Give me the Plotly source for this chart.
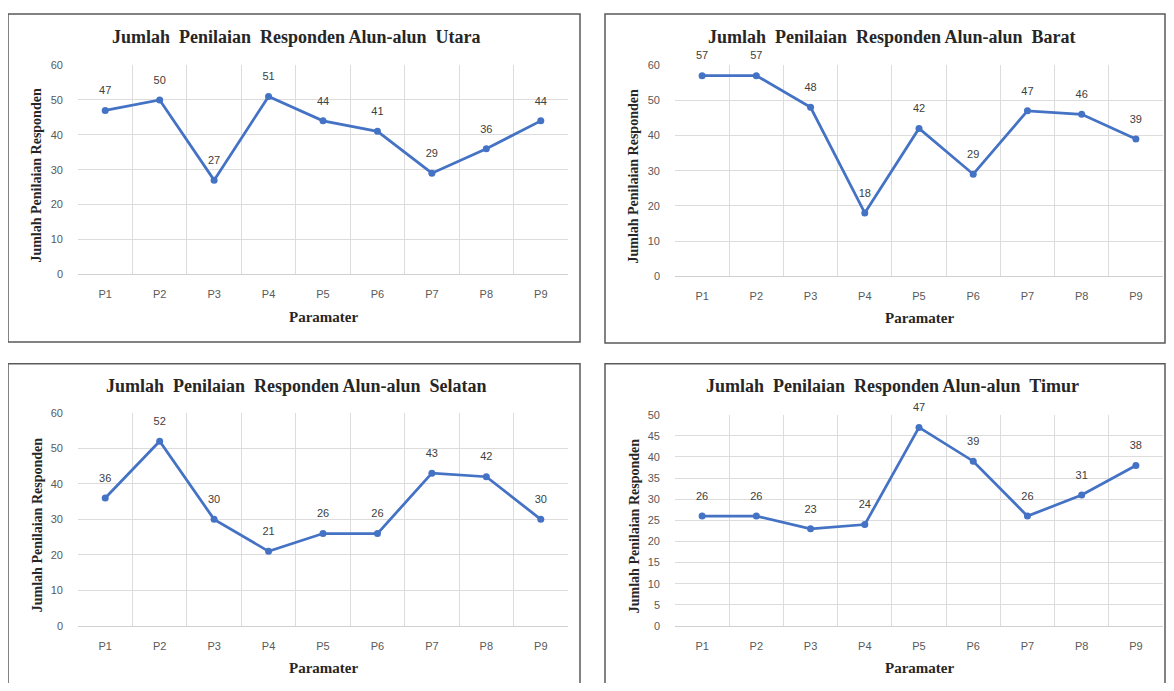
import plotly.graph_objects as go

# page body has an 8px margin, so the figure is drawn 8px in from the top-left
OFF = 8
W, H = 1174 - 2 * OFF, 691 - 2 * OFF

params = ["P1", "P2", "P3", "P4", "P5", "P6", "P7", "P8", "P9"]
utara = [47, 50, 27, 51, 44, 41, 29, 36, 44]
barat = [57, 57, 48, 18, 42, 29, 47, 46, 39]
selatan = [36, 52, 30, 21, 26, 26, 43, 42, 30]
timur = [26, 26, 23, 24, 47, 39, 26, 31, 38]

titles = [
    "Jumlah\u00a0 Penilaian\u00a0 Responden Alun-alun\u00a0 Utara",
    "Jumlah\u00a0 Penilaian\u00a0 Responden Alun-alun\u00a0 Barat",
    "Jumlah\u00a0 Penilaian\u00a0 Responden Alun-alun\u00a0 Selatan",
    "Jumlah\u00a0 Penilaian\u00a0 Responden Alun-alun\u00a0 Timur",
]
y_title = "Jumlah Penilaian Responden"
x_title = "Paramater"

series = [utara, barat, selatan, timur]
y_max = [60, 60, 60, 50]
y_step = [10, 10, 10, 5]

# pixel layout in window coords: panel box (x0,y0,x1,y1), plot area (x0,ytop,x1,ybottom)
panels = [
    dict(box=(8, 8, 580, 342), plot=(78, 60, 568, 273)),
    dict(box=(605, 8, 1165, 343), plot=(675, 60, 1163, 275)),
    dict(box=(8, 364, 580, 700), plot=(78, 414, 568, 631)),
    dict(box=(605, 364, 1165, 700), plot=(675, 416, 1163, 631)),
]

def px(x):
    return (x - OFF) / W

def py(y):
    return 1 - (y - OFF) / H

fig = go.Figure()
serif = "Liberation Serif, Times New Roman, serif"
sans = "Liberation Sans Narrow, Liberation Sans, Arial, sans-serif"

for i, (vals, p) in enumerate(zip(series, panels)):
    n = i + 1
    xa = "x" if n == 1 else f"x{n}"
    ya = "y" if n == 1 else f"y{n}"
    fig.add_trace(go.Scatter(
        x=params, y=vals, xaxis=xa, yaxis=ya,
        mode="lines+markers",
        line=dict(color="#4472C4", width=2.75),
        marker=dict(color="#4472C4", size=7),
        showlegend=False, cliponaxis=False, hoverinfo="x+y",
    ))
    # data labels (transparent large marker only to push the label upward)
    fig.add_trace(go.Scatter(
        x=params, y=vals, xaxis=xa, yaxis=ya,
        mode="markers+text",
        text=[str(v) for v in vals],
        textposition="top center",
        textfont=dict(family=sans, size=11, color="#404040"),
        marker=dict(color="rgba(0,0,0,0)", size=20),
        showlegend=False, cliponaxis=False, hoverinfo="skip",
    ))
    x0, yt, x1, yb = p["plot"]
    xkey = "xaxis" if n == 1 else f"xaxis{n}"
    ykey = "yaxis" if n == 1 else f"yaxis{n}"
    fig.layout[xkey] = dict(
        domain=[px(x0), min(1, px(x1))], anchor=ya, type="category",
        range=[-0.5, len(params) - 0.5],
        tickson="boundaries", showgrid=True, gridcolor="#dcdcdc", gridwidth=1,
        showline=True, linecolor="#d0d0d0", linewidth=1, mirror=False,
        ticks="", tickfont=dict(family=sans, size=11, color="#595959"),
        ticklabelstandoff=10, zeroline=False, fixedrange=True,
    )
    fig.layout[ykey] = dict(
        domain=[max(0, py(yb)), py(yt)], anchor=xa, range=[0, y_max[i]],
        dtick=y_step[i], tick0=0, showgrid=True, gridcolor="#dcdcdc", gridwidth=1,
        zeroline=False, showline=False, ticks="",
        tickfont=dict(family=sans, size=11, color="#595959"),
        ticklabelstandoff=14, fixedrange=True,
    )
    bx0, by0, bx1, by1 = p["box"]
    fig.add_shape(type="rect", xref="paper", yref="paper",
                  x0=px(bx0), x1=px(bx1), y0=py(by1), y1=py(by0),
                  line=dict(color="#5a5a5a", width=1.5), layer="above")
    cx = (x0 + x1) / 2 - 27
    fig.add_annotation(text=f"<b>{titles[i]}</b>", xref="paper", yref="paper",
                       x=px(cx), y=py(by0 + 23), showarrow=False,
                       font=dict(family=serif, size=18, color="#262626"),
                       xanchor="center", yanchor="middle")
    fig.add_annotation(text=f"<b>{x_title}</b>", xref="paper", yref="paper",
                       x=px((x0 + x1) / 2), y=py(yb + 43), showarrow=False,
                       font=dict(family=serif, size=15, color="#262626"),
                       xanchor="center", yanchor="middle")
    fig.add_annotation(text=f"<b>{y_title}</b>", xref="paper", yref="paper",
                       x=px(bx0 + 29), y=py((yt + yb) / 2 + 6), showarrow=False,
                       textangle=-90,
                       font=dict(family=serif, size=14, color="#262626"),
                       xanchor="center", yanchor="middle")

fig.update_layout(
    width=W, height=H, margin=dict(l=0, r=0, t=0, b=0),
    paper_bgcolor="white", plot_bgcolor="white",
)

fig.write_html("out.html")
